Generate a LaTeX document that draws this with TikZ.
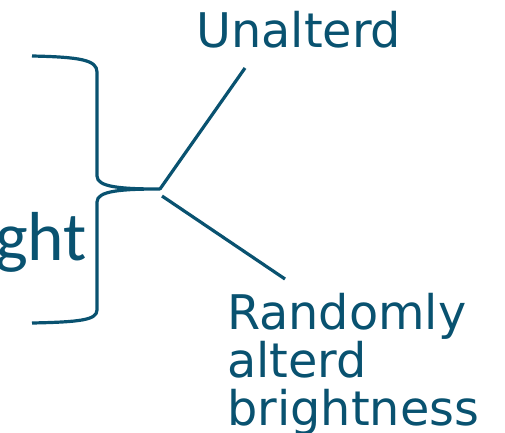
\documentclass[tikz,border=0pt]{standalone}
\usepackage{fontspec}
\setmainfont{DejaVu Sans}
\newfontfamily\bigfont{Carlito}
\definecolor{teal1}{RGB}{9,82,112}
\begin{document}
\begin{tikzpicture}[x=0.75pt,y=-0.75pt,
  lbl/.style={text=teal1,inner sep=0pt,font=\fontsize{35.8}{36}\selectfont},
  conn/.style={draw=teal1,line width=2.4pt}]
\useasboundingbox (0,0) rectangle (505,432);
\coordinate (tip) at (160,189);
\coordinate (tip2) at (162,196);
\draw[conn,line join=round] (32,56) .. controls (80,57) and (97,60) .. (97,72)
  -- (97,176) .. controls (97,187) and (120,189) .. (tip)
  .. controls (120,189) and (97,191) .. (97,202)
  -- (97,310) .. controls (97,320) and (80,322) .. (32,323);
\node[lbl,anchor=base west] (u) at (196,47) {Unalterd};
\node[lbl,anchor=base west,align=left] (r) at (227,425) {Randomly\\alterd\\brightness};
\node[text=teal1,inner sep=0pt,anchor=base east,font=\bigfont\fontsize{52}{60}\selectfont] (g) at (87,260) {ght};
\coordinate (ue) at (245,68);
\coordinate (re) at (285,279);
\draw[conn] (tip) -- (ue);
\draw[conn] (tip2) -- (re);
\end{tikzpicture}
\end{document}
